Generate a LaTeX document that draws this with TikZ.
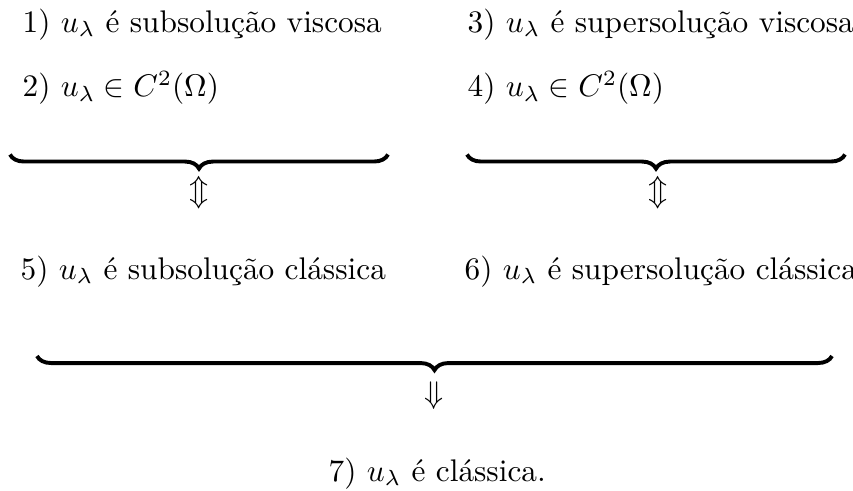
\documentclass[tikz,border=0pt]{standalone}
\usetikzlibrary{decorations.pathreplacing}
\begin{document}
\tikzset{
  lbl/.style={anchor=base west, inner sep=0pt},
  brc/.style={decorate, decoration={brace, mirror, amplitude=4.5pt}, line width=1.25pt},
  arr/.style={inner sep=0pt}
}
\begin{tikzpicture}[x=0.3195pt,y=-0.3195pt]
\useasboundingbox (0,0) rectangle (853,491);
\node[lbl] (s1) at (22,32) {1) $u_\lambda$ é subsolução viscosa};
\node[lbl] (s2) at (22,97) {2) $u_\lambda\in C^2(\Omega)$};
\node[lbl] (s3) at (467,32) {3) $u_\lambda$ é supersolução viscosa};
\node[lbl] (s4) at (467,97) {4) $u_\lambda\in C^2(\Omega)$};
\coordinate (b1l) at (10,154.5);
\coordinate (b1r) at (388,154.5);
\coordinate (b2l) at (467,154.5);
\coordinate (b2r) at (845,154.5);
\coordinate (b3l) at (37,356);
\coordinate (b3r) at (832,356);
\draw[brc] (b1l) -- (b1r);
\draw[brc] (b2l) -- (b2r);
\node[arr] (a1) at (199,193) {$\Updownarrow$};
\node[arr] (a2) at (658,193) {$\Updownarrow$};
\node[lbl] (s5) at (20,279) {5) $u_\lambda$ é subsolução clássica};
\node[lbl] (s6) at (464,279) {6) $u_\lambda$ é supersolução clássica};
\draw[brc] (b3l) -- (b3r);
\node[arr] (a3) at (434,396) {$\Downarrow$};
\node[lbl] (s7) at (328,481) {7) $u_\lambda$ é clássica.};
\end{tikzpicture}
\end{document}
